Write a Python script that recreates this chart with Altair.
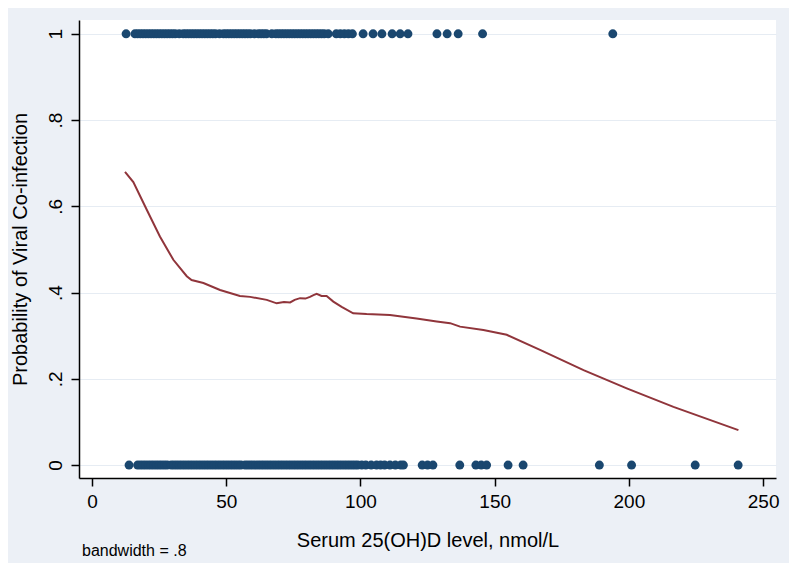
import altair as alt
import pandas as pd

# Observed outcomes (co-infection = 1)
top_x = [12.7, 16.0, 17.0, 18.0, 19.0, 20.0, 21.0, 22.0, 23.0, 24.0, 25.0, 26.0, 27.0, 28.0,
         29.0, 30.0, 31.0, 32.5, 34.0, 35.0, 36.0, 37.0, 38.0, 39.0, 40.0, 41.0, 42.0, 43.0,
         44.0, 45.0, 46.0, 47.5, 49.0, 50.0, 51.0, 52.0, 53.0, 54.0, 55.0, 56.0, 57.0, 58.0,
         59.0, 60.5, 62.0, 63.0, 64.0, 65.0, 67.0, 68.5, 69.5, 70.5, 71.5, 72.5, 73.5, 74.5,
         75.5, 76.5, 77.5, 78.5, 79.5, 80.5, 81.5, 82.5, 83.5, 84.5, 85.5, 86.5, 88.0, 91.0,
         92.5, 94.0, 95.5, 97.0, 101.0, 104.7, 108.0, 111.8, 114.8, 117.7, 128.5, 132.3,
         136.4, 145.5, 194.0]

# Observed outcomes (co-infection = 0)
bottom_x = [13.8, 17.0, 18.0, 19.0, 20.0, 21.0, 22.0, 23.0, 24.0, 25.0, 26.0, 27.0, 28.0,
            29.5, 30.5, 31.5, 32.5, 33.5, 34.5, 35.5, 36.5, 37.5, 38.5, 39.5, 40.5, 41.5,
            42.5, 43.5, 44.5, 45.5, 46.5, 47.5, 48.5, 49.5, 50.5, 51.5, 52.5, 53.5, 54.5,
            55.5, 57.0, 58.0, 59.0, 60.0, 61.0, 62.0, 63.0, 64.0, 65.0, 66.0, 67.0, 68.0,
            69.0, 70.0, 71.0, 72.0, 73.0, 74.0, 75.0, 76.0, 77.0, 78.0, 79.0, 80.0, 81.0,
            82.0, 83.0, 84.0, 85.0, 86.0, 87.0, 88.0, 89.0, 90.0, 91.0, 92.0, 93.0, 94.0,
            95.0, 96.0, 97.0, 98.0, 99.0, 100.5, 102.0, 104.0, 106.0, 107.5, 109.0, 111.0,
            113.0, 115.0, 116.0, 123.0, 125.0, 127.0, 137.0, 143.0, 145.0, 147.0, 155.0,
            160.6, 189.0, 201.0, 224.7, 240.7]

# Lowess smoother
lowess_x = [12.3, 15.4, 20.4, 25.3, 30.3, 35.3, 37.1, 41.5, 47.7, 55.1, 58.9, 65.1, 68.8,
            71.5, 73.8, 75.5, 77.5, 79.5, 81.2, 82.5, 83.7, 85.5, 87.4, 89.9, 93.0, 97.3,
            102.3, 111.0, 120.9, 128.4, 133.4, 137.1, 145.8, 154.5, 166.9, 183.1, 199.2,
            216.6, 240.8]
lowess_y = [0.680, 0.656, 0.592, 0.530, 0.476, 0.438, 0.429, 0.422, 0.406, 0.392, 0.390,
            0.383, 0.375, 0.378, 0.377, 0.383, 0.387, 0.386, 0.390, 0.394, 0.397, 0.392,
            0.392, 0.379, 0.367, 0.352, 0.350, 0.348, 0.340, 0.333, 0.329, 0.321, 0.313,
            0.302, 0.267, 0.220, 0.178, 0.135, 0.081]

x_ticks = [0, 50, 100, 150, 200, 250]
y_ticks = [0, 0.2, 0.4, 0.6, 0.8, 1.0]

pts = pd.DataFrame({
    "x": top_x + bottom_x,
    "y": [1] * len(top_x) + [0] * len(bottom_x),
})
smooth = pd.DataFrame({"x": lowess_x, "y": lowess_y})

FONT = "Liberation Sans"
W, H = 697, 458

xscale = alt.Scale(domain=[-4.84, 254.8], nice=False, zero=False)
yscale = alt.Scale(domain=[-0.030, 1.032], nice=False, zero=False)

xaxis = alt.Axis(
    values=x_ticks, title="Serum 25(OH)D level, nmol/L", grid=False,
    domainColor="black", domainWidth=1.5, tickColor="black", tickWidth=1.5,
    tickSize=8, labelPadding=6, labelFontSize=19, labelFont=FONT, labelColor="black",
    titleFont=FONT, titleFontSize=20, titleFontWeight="normal", titleColor="black",
    titleY=62, titleBaseline="middle", labelFlush=False,
)
yaxis = alt.Axis(
    values=y_ticks, title="Probability of Viral Co-infection", grid=True,
    gridColor="#e6ecf3", gridWidth=1,
    labelExpr="datum.value == 0 ? '0' : (datum.value == 1 ? '1' : replace(format(datum.value, '.1f'), '0.', '.'))",
    domainColor="black", domainWidth=1.5, tickColor="black", tickWidth=1.5,
    tickSize=8, labelPadding=10, labelAngle=-90, labelAlign="center",
    labelBaseline="alphabetic", labelFontSize=19, labelFont=FONT, labelColor="black",
    titleFont=FONT, titleFontSize=20, titleFontWeight="normal", titleColor="black",
    titleX=-59, titleY=H / 2, titleAngle=-90, titleAlign="center", titleBaseline="middle",
    labelFlush=False,
)

dots = alt.Chart(pts).mark_circle(size=80, opacity=1, color="#1a476f").encode(
    x=alt.X("x:Q", scale=xscale, axis=xaxis),
    y=alt.Y("y:Q", scale=yscale, axis=yaxis),
)

line = alt.Chart(smooth).mark_line(color="#90353b", strokeWidth=2).encode(
    x=alt.X("x:Q", scale=xscale),
    y=alt.Y("y:Q", scale=yscale),
)

note = alt.Chart(pd.DataFrame({"t": ["bandwidth = .8"]})).mark_text(
    align="left", baseline="middle", font=FONT, fontSize=16, color="black"
).encode(x=alt.value(3), y=alt.value(531), text="t:N")

chart = alt.layer(dots, line, note).properties(
    width=W, height=H,
    background="#ecf0f6",
    padding={"left": 71, "top": 12, "right": 13, "bottom": 85},
    autosize=alt.AutoSizeParams(type="none"),
).configure_view(fill="white", strokeWidth=0)

chart.save("out.html", embed_options={"renderer": "svg", "actions": False})
